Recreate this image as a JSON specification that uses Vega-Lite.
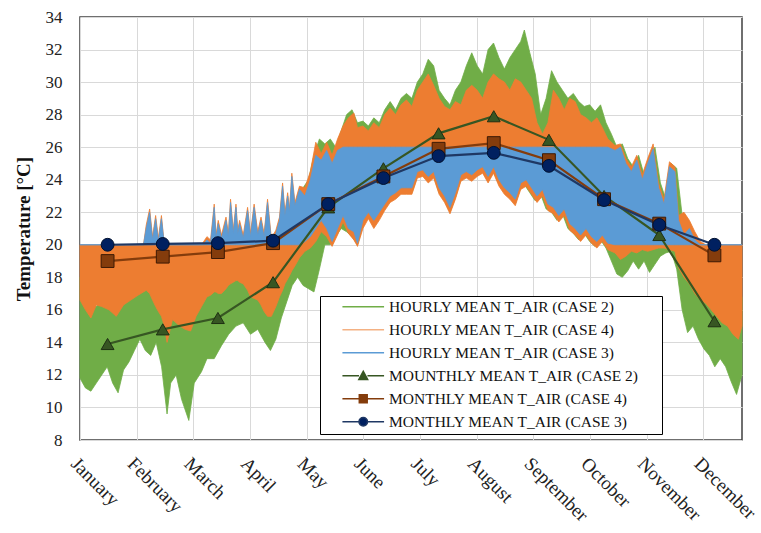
{
  "$schema": "https://vega.github.io/schema/vega-lite/v6.json",
  "width": 662,
  "height": 423,
  "autosize": {"type": "none"},
  "padding": {"left": 80, "top": 17, "right": 19, "bottom": 93},
  "background": "#ffffff",
  "datasets": {
    "green": [
      {"day":0,"lo":11.8,"hi":18.0},{"day":3,"lo":11.2,"hi":17.4},{"day":6,"lo":11.0,"hi":16.8},{"day":9,"lo":11.5,"hi":16.2},
      {"day":12,"lo":12.0,"hi":16.6},{"day":15,"lo":12.5,"hi":16.4},{"day":18,"lo":11.5,"hi":16.0},{"day":21,"lo":10.9,"hi":16.5},
      {"day":24,"lo":12.3,"hi":17.2},{"day":27,"lo":12.8,"hi":17.3},{"day":30,"lo":13.5,"hi":17.8},{"day":33,"lo":14.2,"hi":18.4},
      {"day":36,"lo":13.5,"hi":18.3},{"day":39,"lo":13.2,"hi":17.6},{"day":42,"lo":14.0,"hi":17.4},{"day":45,"lo":12.5,"hi":17.0},
      {"day":48,"lo":9.6,"hi":17.0},{"day":50,"lo":11.5,"hi":16.5},{"day":53,"lo":12.0,"hi":16.0},{"day":56,"lo":10.5,"hi":16.2},
      {"day":60,"lo":9.2,"hi":16.6},{"day":63,"lo":11.5,"hi":17.2},{"day":67,"lo":12.2,"hi":17.5},{"day":70,"lo":13.0,"hi":18.2},
      {"day":74,"lo":13.0,"hi":18.8},{"day":78,"lo":13.8,"hi":19.0},{"day":82,"lo":14.5,"hi":19.2},{"day":86,"lo":15.0,"hi":19.5},
      {"day":90,"lo":15.2,"hi":19.6},{"day":94,"lo":14.5,"hi":19.4},{"day":98,"lo":14.8,"hi":19.0},{"day":102,"lo":14.0,"hi":19.0},
      {"day":105,"lo":13.5,"hi":19.0},{"day":108,"lo":14.2,"hi":19.5},{"day":111,"lo":15.5,"hi":20.5},{"day":114,"lo":16.5,"hi":22.0},
      {"day":117,"lo":17.5,"hi":22.5},{"day":120,"lo":18.0,"hi":22.0},{"day":123,"lo":17.5,"hi":23.5},{"day":126,"lo":17.3,"hi":24.0},
      {"day":129,"lo":17.1,"hi":25.5},{"day":132,"lo":18.5,"hi":26.5},{"day":135,"lo":20.0,"hi":26.2},{"day":138,"lo":20.0,"hi":26.5},
      {"day":141,"lo":20.5,"hi":26.0},{"day":144,"lo":21.0,"hi":27.0},{"day":147,"lo":20.8,"hi":28.0},{"day":150,"lo":20.5,"hi":28.3},
      {"day":153,"lo":20.0,"hi":27.5},{"day":156,"lo":21.2,"hi":27.6},{"day":159,"lo":21.7,"hi":27.3},{"day":162,"lo":21.2,"hi":27.8},
      {"day":165,"lo":21.7,"hi":27.5},{"day":168,"lo":22.2,"hi":28.3},{"day":171,"lo":22.7,"hi":28.8},{"day":174,"lo":22.9,"hi":28.3},
      {"day":177,"lo":23.2,"hi":29.0},{"day":180,"lo":23.2,"hi":29.3},{"day":183,"lo":23.2,"hi":29.0},{"day":186,"lo":24.2,"hi":30.0},
      {"day":189,"lo":24.3,"hi":30.5},{"day":192,"lo":23.9,"hi":31.4},{"day":195,"lo":24.2,"hi":31.0},{"day":198,"lo":23.2,"hi":29.5},
      {"day":201,"lo":22.7,"hi":29.0},{"day":204,"lo":22.0,"hi":28.6},{"day":207,"lo":22.9,"hi":29.5},{"day":210,"lo":24.0,"hi":30.0},
      {"day":213,"lo":24.2,"hi":31.0},{"day":216,"lo":24.0,"hi":31.8},{"day":219,"lo":24.3,"hi":31.0},{"day":222,"lo":24.5,"hi":30.5},
      {"day":225,"lo":23.9,"hi":32.0},{"day":228,"lo":24.5,"hi":32.4},{"day":231,"lo":23.7,"hi":31.5},{"day":234,"lo":23.2,"hi":30.8},
      {"day":237,"lo":22.9,"hi":31.5},{"day":240,"lo":22.5,"hi":32.0},{"day":243,"lo":23.5,"hi":32.5},{"day":245,"lo":23.7,"hi":33.2},
      {"day":248,"lo":23.2,"hi":31.8},{"day":251,"lo":22.7,"hi":30.5},{"day":254,"lo":23.1,"hi":28.0},{"day":257,"lo":22.2,"hi":29.0},
      {"day":260,"lo":22.0,"hi":30.7},{"day":263,"lo":21.5,"hi":30.0},{"day":266,"lo":21.9,"hi":29.5},{"day":269,"lo":21.0,"hi":29.0},
      {"day":272,"lo":20.7,"hi":29.3},{"day":275,"lo":20.3,"hi":28.8},{"day":278,"lo":20.7,"hi":28.5},{"day":281,"lo":20.2,"hi":28.6},
      {"day":284,"lo":19.9,"hi":28.2},{"day":287,"lo":20.3,"hi":28.6},{"day":290,"lo":19.8,"hi":27.5},{"day":293,"lo":19.0,"hi":26.8},
      {"day":296,"lo":18.2,"hi":26.0},{"day":299,"lo":18.0,"hi":26.2},{"day":302,"lo":18.4,"hi":25.3},{"day":305,"lo":19.0,"hi":24.8},
      {"day":308,"lo":18.5,"hi":25.5},{"day":311,"lo":19.0,"hi":24.3},{"day":314,"lo":18.3,"hi":25.2},{"day":317,"lo":18.8,"hi":26.0},
      {"day":320,"lo":19.3,"hi":23.8},{"day":323,"lo":19.5,"hi":22.8},{"day":326,"lo":19.6,"hi":25.0},{"day":329,"lo":18.5,"hi":24.7},
      {"day":332,"lo":16.0,"hi":21.8},{"day":335,"lo":14.6,"hi":21.5},{"day":338,"lo":15.0,"hi":20.5},{"day":341,"lo":14.2,"hi":19.5},
      {"day":344,"lo":13.6,"hi":19.0},{"day":347,"lo":13.2,"hi":18.6},{"day":350,"lo":12.5,"hi":18.2},{"day":353,"lo":13.0,"hi":18.0},
      {"day":356,"lo":12.5,"hi":17.6},{"day":359,"lo":11.6,"hi":17.0},{"day":362,"lo":10.8,"hi":16.5},{"day":365,"lo":12.0,"hi":16.8}
    ],
    "orange": [
      {"day":0,"lo":16.6,"hi":20},{"day":3,"lo":16.0,"hi":20},{"day":6,"lo":15.5,"hi":20},{"day":9,"lo":16.3,"hi":20},
      {"day":12,"lo":16.2,"hi":20},{"day":16,"lo":16.0,"hi":20},{"day":20,"lo":15.6,"hi":20},{"day":24,"lo":16.3,"hi":20},
      {"day":28,"lo":16.6,"hi":20},{"day":32,"lo":16.9,"hi":20},{"day":35,"lo":17.1,"hi":20},{"day":36.5,"lo":17.2,"hi":21.2},
      {"day":38.4,"lo":17.0,"hi":22.2},{"day":40,"lo":16.6,"hi":20.5},{"day":41.7,"lo":16.2,"hi":21.8},{"day":43.2,"lo":15.9,"hi":20.4},
      {"day":44.9,"lo":15.6,"hi":21.8},{"day":46.5,"lo":15.0,"hi":20},{"day":48,"lo":14.0,"hi":20},{"day":51,"lo":15.4,"hi":20},
      {"day":55,"lo":15.0,"hi":20},{"day":58,"lo":14.8,"hi":20},{"day":61,"lo":14.7,"hi":20},{"day":64,"lo":15.6,"hi":20},
      {"day":67,"lo":16.2,"hi":20},{"day":70,"lo":16.8,"hi":20.5},{"day":72,"lo":16.9,"hi":20.3},{"day":74,"lo":17.1,"hi":22.5},
      {"day":75,"lo":17.1,"hi":20.6},{"day":76.2,"lo":17.0,"hi":21.5},{"day":78,"lo":17.0,"hi":20.6},{"day":80.5,"lo":17.3,"hi":21.7},
      {"day":81.8,"lo":17.5,"hi":20.7},{"day":83,"lo":17.6,"hi":22.8},{"day":84.5,"lo":17.7,"hi":20.9},{"day":86,"lo":17.8,"hi":22.5},
      {"day":87,"lo":17.8,"hi":20.9},{"day":88,"lo":17.7,"hi":21.5},{"day":90,"lo":17.6,"hi":20.6},{"day":92.4,"lo":17.2,"hi":22.3},
      {"day":94,"lo":16.8,"hi":20.7},{"day":96,"lo":16.7,"hi":22.5},{"day":98,"lo":16.6,"hi":20.8},{"day":99.8,"lo":16.3,"hi":21.7},
      {"day":101.5,"lo":15.9,"hi":20.7},{"day":103.4,"lo":15.6,"hi":22.8},{"day":105.5,"lo":15.6,"hi":20.4},{"day":108,"lo":16.2,"hi":20.9},
      {"day":110,"lo":16.8,"hi":21.7},{"day":111.7,"lo":17.2,"hi":23.8},{"day":113,"lo":17.6,"hi":22.0},{"day":114.5,"lo":17.9,"hi":23.2},
      {"day":115.5,"lo":18.1,"hi":22.2},{"day":116.8,"lo":18.4,"hi":24.4},{"day":118.5,"lo":18.7,"hi":22.6},{"day":121,"lo":19.2,"hi":23.6},
      {"day":124,"lo":19.6,"hi":23.5},{"day":127,"lo":19.8,"hi":24.5},{"day":130,"lo":20.2,"hi":26.3},{"day":133,"lo":20.8,"hi":25.6},
      {"day":136,"lo":20.5,"hi":26.3},{"day":139,"lo":19.9,"hi":25.5},{"day":142,"lo":20.6,"hi":26.5},{"day":145,"lo":21.4,"hi":27.3},
      {"day":148,"lo":20.7,"hi":27.8},{"day":151,"lo":20.3,"hi":28.1},{"day":153,"lo":19.9,"hi":27.2},{"day":156,"lo":21.0,"hi":27.3},
      {"day":159,"lo":21.6,"hi":27.0},{"day":162,"lo":21.0,"hi":27.5},{"day":165,"lo":21.5,"hi":27.2},{"day":168,"lo":22.1,"hi":28.0},
      {"day":171,"lo":22.6,"hi":28.4},{"day":174,"lo":22.8,"hi":28.0},{"day":177,"lo":23.1,"hi":28.6},{"day":180,"lo":23.1,"hi":28.9},
      {"day":183,"lo":23.1,"hi":28.5},{"day":186,"lo":24.1,"hi":29.5},{"day":189,"lo":24.2,"hi":30.0},{"day":192,"lo":23.8,"hi":30.5},
      {"day":195,"lo":24.1,"hi":29.8},{"day":198,"lo":23.1,"hi":29.0},{"day":201,"lo":22.6,"hi":28.5},{"day":204,"lo":21.9,"hi":28.3},
      {"day":207,"lo":22.8,"hi":28.8},{"day":210,"lo":23.9,"hi":28.6},{"day":213,"lo":24.1,"hi":29.5},{"day":216,"lo":23.9,"hi":29.8},
      {"day":219,"lo":24.2,"hi":29.5},{"day":222,"lo":24.4,"hi":29.0},{"day":225,"lo":23.8,"hi":30.0},{"day":228,"lo":24.4,"hi":30.5},
      {"day":231,"lo":23.6,"hi":30.2},{"day":234,"lo":23.1,"hi":30.0},{"day":237,"lo":22.8,"hi":29.5},{"day":240,"lo":22.4,"hi":30.2},
      {"day":243,"lo":23.4,"hi":30.0},{"day":246,"lo":23.6,"hi":29.5},{"day":249,"lo":23.1,"hi":29.0},{"day":252,"lo":22.6,"hi":27.5},
      {"day":255,"lo":23.0,"hi":26.8},{"day":258,"lo":22.1,"hi":27.5},{"day":261,"lo":21.9,"hi":29.5},{"day":264,"lo":21.4,"hi":29.0},
      {"day":267,"lo":21.8,"hi":28.3},{"day":270,"lo":20.9,"hi":29.0},{"day":273,"lo":20.6,"hi":28.8},{"day":276,"lo":20.2,"hi":28.0},
      {"day":279,"lo":20.6,"hi":27.8},{"day":282,"lo":20.1,"hi":27.5},{"day":285,"lo":19.8,"hi":27.8},{"day":288,"lo":20.2,"hi":27.2},
      {"day":291,"lo":19.7,"hi":26.5},{"day":295,"lo":19.5,"hi":26.1},{"day":298,"lo":19.1,"hi":26.2},{"day":301,"lo":19.3,"hi":25.3},
      {"day":304,"lo":19.6,"hi":24.8},{"day":307,"lo":19.5,"hi":25.5},{"day":310,"lo":19.7,"hi":24.3},{"day":313,"lo":19.6,"hi":25.3},
      {"day":316,"lo":19.7,"hi":26.2},{"day":319,"lo":19.8,"hi":23.8},{"day":322,"lo":19.8,"hi":22.8},{"day":325,"lo":19.7,"hi":25.1},
      {"day":328,"lo":19.6,"hi":24.8},{"day":330,"lo":18.6,"hi":21.8},{"day":333,"lo":18.0,"hi":22.0},{"day":336,"lo":17.6,"hi":21.5},
      {"day":339,"lo":17.0,"hi":20.8},{"day":342,"lo":16.6,"hi":20.2},{"day":345,"lo":16.4,"hi":20},{"day":348,"lo":16.0,"hi":20},
      {"day":351,"lo":15.6,"hi":20},{"day":354,"lo":15.2,"hi":20},{"day":357,"lo":15.0,"hi":20},{"day":360,"lo":14.5,"hi":20},
      {"day":363,"lo":14.2,"hi":20},{"day":365,"lo":15.0,"hi":20}
    ],
    "blue": [
      {"day":0,"lo":20,"hi":20},{"day":35,"lo":20,"hi":20},{"day":36.5,"lo":20,"hi":21.0},{"day":38.4,"lo":20,"hi":22.0},
      {"day":40,"lo":20,"hi":20.3},{"day":41.7,"lo":20,"hi":21.6},{"day":43.2,"lo":20,"hi":20.2},{"day":44.9,"lo":20,"hi":21.6},
      {"day":46.5,"lo":20,"hi":20},{"day":68,"lo":20,"hi":20},{"day":70,"lo":20,"hi":20.3},{"day":72,"lo":20,"hi":20.1},
      {"day":74,"lo":20,"hi":22.3},{"day":75,"lo":20,"hi":20.4},{"day":76.2,"lo":20,"hi":21.3},{"day":78,"lo":20,"hi":20.4},
      {"day":80.5,"lo":20,"hi":21.5},{"day":81.8,"lo":20,"hi":20.5},{"day":83,"lo":20,"hi":22.6},{"day":84.5,"lo":20,"hi":20.7},
      {"day":86,"lo":20,"hi":22.3},{"day":87,"lo":20,"hi":20.7},{"day":88,"lo":20,"hi":21.3},{"day":90,"lo":20,"hi":20.4},
      {"day":92.4,"lo":20,"hi":22.1},{"day":94,"lo":20,"hi":20.5},{"day":96,"lo":20,"hi":22.3},{"day":98,"lo":20,"hi":20.6},
      {"day":99.8,"lo":20,"hi":21.5},{"day":101.5,"lo":20,"hi":20.5},{"day":103.4,"lo":20,"hi":22.6},{"day":105.5,"lo":20,"hi":20.2},
      {"day":108,"lo":20,"hi":20.7},{"day":110,"lo":20,"hi":21.5},{"day":111.7,"lo":20,"hi":23.6},{"day":113,"lo":20,"hi":21.8},
      {"day":114.5,"lo":20,"hi":23.0},{"day":115.5,"lo":20,"hi":22.0},{"day":116.8,"lo":20,"hi":24.2},{"day":118.5,"lo":20,"hi":22.4},
      {"day":121,"lo":20,"hi":23.4},{"day":124,"lo":20.2,"hi":23.0},{"day":127,"lo":20.5,"hi":24.0},{"day":130,"lo":21.0,"hi":25.5},
      {"day":133,"lo":21.5,"hi":25.2},{"day":136,"lo":21.0,"hi":25.8},{"day":139,"lo":20.2,"hi":25.0},{"day":142,"lo":21.0,"hi":25.8},
      {"day":145,"lo":21.8,"hi":26},{"day":148,"lo":21.0,"hi":26},{"day":151,"lo":20.8,"hi":26},{"day":153,"lo":20.1,"hi":26},
      {"day":156,"lo":21.5,"hi":26},{"day":159,"lo":22.0,"hi":26},{"day":162,"lo":21.5,"hi":26},{"day":165,"lo":22.0,"hi":26},
      {"day":168,"lo":22.5,"hi":26},{"day":171,"lo":23.0,"hi":26},{"day":174,"lo":23.2,"hi":26},{"day":177,"lo":23.5,"hi":26},
      {"day":180,"lo":23.5,"hi":26},{"day":183,"lo":23.5,"hi":26},{"day":186,"lo":24.5,"hi":26},{"day":189,"lo":24.6,"hi":26},
      {"day":192,"lo":24.2,"hi":26},{"day":195,"lo":24.5,"hi":26},{"day":198,"lo":23.5,"hi":26},{"day":201,"lo":23.0,"hi":26},
      {"day":204,"lo":22.3,"hi":26},{"day":207,"lo":23.2,"hi":26},{"day":210,"lo":24.3,"hi":26},{"day":213,"lo":24.5,"hi":26},
      {"day":216,"lo":24.3,"hi":26},{"day":219,"lo":24.6,"hi":26},{"day":222,"lo":24.8,"hi":26},{"day":225,"lo":24.2,"hi":26},
      {"day":228,"lo":24.8,"hi":26},{"day":231,"lo":24.0,"hi":26},{"day":234,"lo":23.5,"hi":26},{"day":237,"lo":23.2,"hi":26},
      {"day":240,"lo":22.8,"hi":26},{"day":243,"lo":23.8,"hi":26},{"day":246,"lo":24.0,"hi":26},{"day":249,"lo":23.5,"hi":26},
      {"day":252,"lo":23.0,"hi":26},{"day":255,"lo":23.4,"hi":26},{"day":258,"lo":22.5,"hi":26},{"day":261,"lo":22.3,"hi":26},
      {"day":264,"lo":21.8,"hi":26},{"day":267,"lo":22.2,"hi":26},{"day":270,"lo":21.3,"hi":26},{"day":273,"lo":21.0,"hi":26},
      {"day":276,"lo":20.6,"hi":26},{"day":279,"lo":21.0,"hi":26},{"day":282,"lo":20.5,"hi":26},{"day":285,"lo":20.2,"hi":26},
      {"day":288,"lo":20.6,"hi":26},{"day":291,"lo":20.1,"hi":26},{"day":295,"lo":20,"hi":25.8},{"day":298,"lo":20,"hi":26.0},
      {"day":301,"lo":20,"hi":25.0},{"day":304,"lo":20,"hi":24.5},{"day":307,"lo":20,"hi":25.2},{"day":310,"lo":20,"hi":24.0},
      {"day":313,"lo":20,"hi":25.0},{"day":316,"lo":20,"hi":25.9},{"day":319,"lo":20,"hi":23.5},{"day":322,"lo":20,"hi":22.5},
      {"day":325,"lo":20,"hi":24.8},{"day":328,"lo":20,"hi":24.5},{"day":330,"lo":20,"hi":21.5},{"day":333,"lo":20,"hi":20.6},
      {"day":336,"lo":20,"hi":21.0},{"day":339,"lo":20,"hi":20.3},{"day":342,"lo":20,"hi":20},{"day":365,"lo":20,"hi":20}
    ],
    "monthly": [
      {"series":"m2","day":15.21,"t":13.9},{"series":"m2","day":45.63,"t":14.8},{"series":"m2","day":76.04,"t":15.5},
      {"series":"m2","day":106.46,"t":17.7},{"series":"m2","day":136.88,"t":22.3},{"series":"m2","day":167.29,"t":24.7},
      {"series":"m2","day":197.71,"t":26.85},{"series":"m2","day":228.13,"t":27.9},{"series":"m2","day":258.54,"t":26.45},
      {"series":"m2","day":288.96,"t":23.0},{"series":"m2","day":319.38,"t":20.6},{"series":"m2","day":349.79,"t":15.3},
      {"series":"m4","day":15.21,"t":19.0},{"series":"m4","day":45.63,"t":19.27},{"series":"m4","day":76.04,"t":19.55},
      {"series":"m4","day":106.46,"t":20.1},{"series":"m4","day":136.88,"t":22.5},{"series":"m4","day":167.29,"t":24.2},
      {"series":"m4","day":197.71,"t":25.9},{"series":"m4","day":228.13,"t":26.25},{"series":"m4","day":258.54,"t":25.2},
      {"series":"m4","day":288.96,"t":22.8},{"series":"m4","day":319.38,"t":21.3},{"series":"m4","day":349.79,"t":19.35},
      {"series":"m3","day":15.21,"t":20.0},{"series":"m3","day":45.63,"t":20.05},{"series":"m3","day":76.04,"t":20.1},
      {"series":"m3","day":106.46,"t":20.25},{"series":"m3","day":136.88,"t":22.5},{"series":"m3","day":167.29,"t":24.1},
      {"series":"m3","day":197.71,"t":25.45},{"series":"m3","day":228.13,"t":25.65},{"series":"m3","day":258.54,"t":24.85},
      {"series":"m3","day":288.96,"t":22.75},{"series":"m3","day":319.38,"t":21.22},{"series":"m3","day":349.79,"t":20.0}
    ]
  },
  "layer": [
    {
      "data": {"name": "green"},
      "mark": {"type": "area", "opacity": 1, "stroke": "#70ad47", "strokeWidth": 0.8},
      "encoding": {
        "x": {"field": "day", "type": "quantitative", "scale": {"domain": [0, 365], "nice": false, "zero": false},
              "axis": {"title": null, "values": [0, 31.25, 62.5, 93.75, 125, 156.25, 187.5, 218.75, 250, 281.25, 312.5, 343.75],
                       "labelExpr": "['January','February','March','April','May','June','July','August','September','October','November','December'][round(datum.value/31.25)]"}},
        "y": {"field": "lo", "type": "quantitative", "scale": {"domain": [8, 34], "nice": false, "zero": false},
              "axis": {"title": "Temperature [°C]", "values": [8,10,12,14,16,18,20,22,24,26,28,30,32,34], "labelOverlap": false}},
        "y2": {"field": "hi"},
        "color": {"datum": "h2", "type": "nominal", "legend": null,
                  "scale": {"domain": ["h2", "h4", "h3", "m4", "m2", "m3", "zz"],
                            "range": ["#70ad47", "#ed7d31", "#5b9bd5", "#843c0c", "#375623", "#1f3864", "#000000"]}}
      }
    },
    {
      "data": {"name": "orange"},
      "mark": {"type": "area", "opacity": 1, "stroke": "#ed7d31", "strokeWidth": 0.8},
      "encoding": {
        "x": {"field": "day", "type": "quantitative"},
        "y": {"field": "lo", "type": "quantitative",
              "axis": {"title": "Temperature [°C]", "values": [8,10,12,14,16,18,20,22,24,26,28,30,32,34], "labelOverlap": false}},
        "y2": {"field": "hi"},
        "color": {"datum": "h4", "type": "nominal", "legend": null}
      }
    },
    {
      "data": {"name": "blue"},
      "mark": {"type": "area", "opacity": 1, "stroke": "#5b9bd5", "strokeWidth": 0.8},
      "encoding": {
        "x": {"field": "day", "type": "quantitative"},
        "y": {"field": "lo", "type": "quantitative",
              "axis": {"title": "Temperature [°C]", "values": [8,10,12,14,16,18,20,22,24,26,28,30,32,34], "labelOverlap": false}},
        "y2": {"field": "hi"},
        "color": {"datum": "h3", "type": "nominal", "legend": null}
      }
    },
    {
      "data": {"name": "monthly"},
      "mark": {"type": "line", "strokeWidth": 2.2},
      "encoding": {
        "x": {"field": "day", "type": "quantitative"},
        "y": {"field": "t", "type": "quantitative",
              "axis": {"title": "Temperature [°C]", "values": [8,10,12,14,16,18,20,22,24,26,28,30,32,34], "labelOverlap": false}},
        "color": {"field": "series", "type": "nominal", "legend": null},
        "detail": {"field": "series"}
      }
    },
    {
      "data": {"name": "monthly"},
      "transform": [{"filter": "datum.series == 'm2'"}],
      "mark": {"type": "point", "shape": "triangle-up", "filled": true, "opacity": 1, "size": 165, "strokeWidth": 1,
               "fill": "#375623", "stroke": "#1e2f13"},
      "encoding": {
        "x": {"field": "day", "type": "quantitative"},
        "y": {"field": "t", "type": "quantitative",
              "axis": {"title": "Temperature [°C]", "values": [8,10,12,14,16,18,20,22,24,26,28,30,32,34], "labelOverlap": false}}
      }
    },
    {
      "data": {"name": "monthly"},
      "transform": [{"filter": "datum.series == 'm4'"}],
      "mark": {"type": "point", "shape": "square", "filled": true, "opacity": 1, "size": 165, "strokeWidth": 1,
               "fill": "#843c0c", "stroke": "#3d1a05"},
      "encoding": {
        "x": {"field": "day", "type": "quantitative"},
        "y": {"field": "t", "type": "quantitative",
              "axis": {"title": "Temperature [°C]", "values": [8,10,12,14,16,18,20,22,24,26,28,30,32,34], "labelOverlap": false}}
      }
    },
    {
      "data": {"name": "monthly"},
      "transform": [{"filter": "datum.series == 'm3'"}],
      "mark": {"type": "point", "shape": "circle", "filled": true, "opacity": 1, "size": 165, "strokeWidth": 1,
               "fill": "#002060", "stroke": "#00102e"},
      "encoding": {
        "x": {"field": "day", "type": "quantitative"},
        "y": {"field": "t", "type": "quantitative",
              "axis": {"title": "Temperature [°C]", "values": [8,10,12,14,16,18,20,22,24,26,28,30,32,34], "labelOverlap": false}}
      }
    },
    {
      "data": {"name": "monthly"},
      "mark": {"type": "point", "filled": true, "opacity": 0},
      "encoding": {
        "x": {"field": "day", "type": "quantitative"},
        "y": {"field": "t", "type": "quantitative",
              "axis": {"title": "Temperature [°C]", "values": [8,10,12,14,16,18,20,22,24,26,28,30,32,34], "labelOverlap": false}},
        "shape": {"field": "series", "type": "nominal",
          "scale": {"domain": ["h2", "h4", "h3", "m2", "m4", "m3"],
                    "range": ["M-3.47,0H3.47", "M-3.47,0H3.47", "M-3.47,0H3.47",
                              "M-3.47,0H-0.7M0.7,0H3.47M0,-0.72L0.72,0.6L-0.72,0.6Z",
                              "M-3.47,0H-0.65M0.65,0H3.47M-0.65,-0.65H0.65V0.65H-0.65Z",
                              "M-3.47,0H-0.7M0.7,0H3.47M-0.7,0A0.7,0.7,0,1,1,0.7,0A0.7,0.7,0,1,1,-0.7,0Z"]},
          "legend": {
            "orient": "none", "legendX": 240, "legendY": 279, "title": null, "direction": "vertical",
            "padding": 3, "rowPadding": 6, "fillColor": "#ffffff", "strokeColor": "#000000",
            "labelFont": "Liberation Serif", "labelFontSize": 15.5, "labelColor": "#111111", "labelLimit": 500,
            "symbolSize": 144, "symbolStrokeWidth": 1.6, "symbolOffset": 32.5, "labelOffset": 18, "symbolOpacity": 1,
            "labelExpr": "(datum.label=='h2'?'HOURLY MEAN T_AIR (CASE 2)':datum.label=='h4'?'HOURLY MEAN T_AIR (CASE 4)':datum.label=='h3'?'HOURLY MEAN T_AIR (CASE 3)':datum.label=='m2'?'MOUNTHLY MEAN T_AIR (CASE 2)':datum.label=='m4'?'MONTHLY MEAN T_AIR (CASE 4)':'MONTHLY MEAN T_AIR (CASE 3)') + '\u00a0\u00a0\u00a0\u00a0\u00a0\u200b'"
          }
        },
        "fill": {"field": "series", "type": "nominal",
          "scale": {"domain": ["h2", "h4", "h3", "m2", "m4", "m3"],
                    "range": ["transparent", "transparent", "transparent", "#375623", "#843c0c", "#002060"]},
          "legend": {
            "orient": "none", "legendX": 240, "legendY": 279, "title": null, "direction": "vertical",
            "padding": 3, "rowPadding": 6, "fillColor": "#ffffff", "strokeColor": "#000000",
            "labelFont": "Liberation Serif", "labelFontSize": 15.5, "labelColor": "#111111", "labelLimit": 500,
            "symbolSize": 144, "symbolStrokeWidth": 1.6, "symbolOffset": 32.5, "labelOffset": 18, "symbolOpacity": 1,
            "labelExpr": "(datum.label=='h2'?'HOURLY MEAN T_AIR (CASE 2)':datum.label=='h4'?'HOURLY MEAN T_AIR (CASE 4)':datum.label=='h3'?'HOURLY MEAN T_AIR (CASE 3)':datum.label=='m2'?'MOUNTHLY MEAN T_AIR (CASE 2)':datum.label=='m4'?'MONTHLY MEAN T_AIR (CASE 4)':'MONTHLY MEAN T_AIR (CASE 3)') + '\u00a0\u00a0\u00a0\u00a0\u00a0\u200b'"
          }
        },
        "stroke": {"field": "series", "type": "nominal",
          "scale": {"domain": ["h2", "h4", "h3", "m2", "m4", "m3"],
                    "range": ["#70ad47", "#f4b183", "#5b9bd5", "#375623", "#843c0c", "#1f3864"]},
          "legend": {
            "orient": "none", "legendX": 240, "legendY": 279, "title": null, "direction": "vertical",
            "padding": 3, "rowPadding": 6, "fillColor": "#ffffff", "strokeColor": "#000000",
            "labelFont": "Liberation Serif", "labelFontSize": 15.5, "labelColor": "#111111", "labelLimit": 500,
            "symbolSize": 144, "symbolStrokeWidth": 1.6, "symbolOffset": 32.5, "labelOffset": 18, "symbolOpacity": 1,
            "labelExpr": "(datum.label=='h2'?'HOURLY MEAN T_AIR (CASE 2)':datum.label=='h4'?'HOURLY MEAN T_AIR (CASE 4)':datum.label=='h3'?'HOURLY MEAN T_AIR (CASE 3)':datum.label=='m2'?'MOUNTHLY MEAN T_AIR (CASE 2)':datum.label=='m4'?'MONTHLY MEAN T_AIR (CASE 4)':'MONTHLY MEAN T_AIR (CASE 3)') + '\u00a0\u00a0\u00a0\u00a0\u00a0\u200b'"
          }
        }
      }
    }
  ],
  "config": {
    "font": "Liberation Serif",
    "view": {"stroke": "#404040", "strokeWidth": 1.5},
    "axis": {"domain": false, "ticks": false, "tickSize": 0, "gridColor": "#d9d9d9", "gridWidth": 1,
             "labelFont": "Liberation Serif", "labelColor": "#222222", "titleFont": "Liberation Serif", "titleColor": "#111111"},
    "axisY": {"labelFontSize": 17, "labelPadding": 18, "titleFontSize": 19, "titleFontWeight": "bold", "titlePadding": 12},
    "axisX": {"labelFontSize": 19, "labelAngle": 45, "labelAlign": "left", "labelBaseline": "top", "labelPadding": 14,
              "labelOverlap": false, "labelBound": false, "labelFlush": false}
  }
}
